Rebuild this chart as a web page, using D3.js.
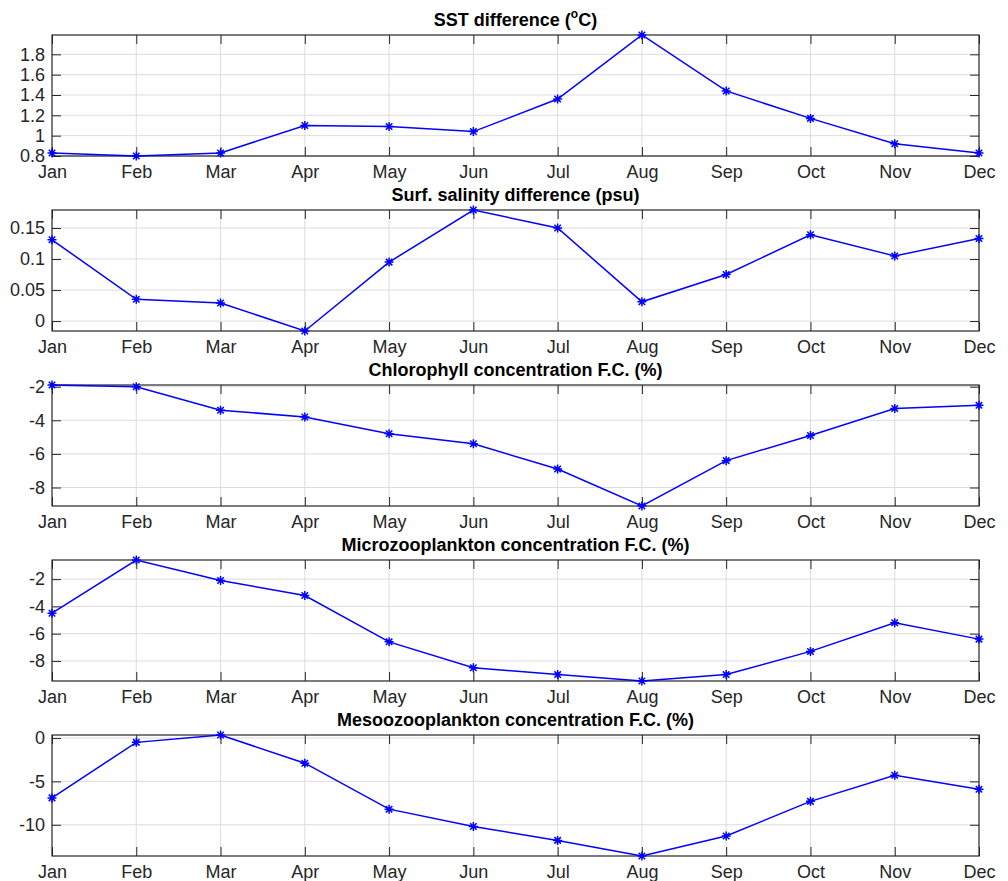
<!DOCTYPE html>
<html>
<head>
<meta charset="utf-8">
<script src="https://cdn.jsdelivr.net/npm/d3@7"></script>
<style>
  body { margin: 0; background: #fff; }
  svg { font-family: "Liberation Sans", Arial, Helvetica, sans-serif; }
</style>
</head>
<body>
<svg id="chart" width="1008" height="881"></svg>
<script>
const months = ["Jan","Feb","Mar","Apr","May","Jun","Jul","Aug","Sep","Oct","Nov","Dec"]

const sst = [0.83, 0.80, 0.83, 1.10, 1.09, 1.04, 1.36, 1.99, 1.44, 1.17, 0.92, 0.83]
const salinity = [0.131, 0.035, 0.029, -0.016, 0.095, 0.179, 0.150, 0.031, 0.075, 0.139, 0.105, 0.133]
const chloro = [-1.9, -2.0, -3.4, -3.8, -4.8, -5.4, -6.9, -9.1, -6.4, -4.9, -3.3, -3.1]
const micro = [-4.5, -0.6, -2.1, -3.2, -6.6, -8.5, -9.0, -9.47, -9.0, -7.3, -5.2, -6.4]
const meso = [-6.9, -0.5, 0.35, -2.9, -8.2, -10.2, -11.8, -13.6, -11.3, -7.3, -4.3, -5.9]

const titles = ["SST difference", "Surf. salinity difference (psu)", "Chlorophyll concentration F.C. (%)",
  "Microzooplankton concentration F.C. (%)", "Mesoozooplankton concentration F.C. (%)"]
const yTicks = [
  [0.8, 1, 1.2, 1.4, 1.6, 1.8],
  [0, 0.05, 0.1, 0.15],
  [-8, -6, -4, -2],
  [-8, -6, -4, -2],
  [-10, -5, 0]
]
const series = [sst, salinity, chloro, micro, meso]

const left = 52, right = 979
const top0 = 35, panelH = 121, step = 175
const axisColor = '#262626'
const tickLen = 9
const fontSize = 18

const svg = d3.select('#chart')

const x = d3.scalePoint()
  .domain(months)
  .range([left, right])

function asterisk(r) {
  const d = r * 0.72
  return `M${-r},0L${r},0M0,${-r}L0,${r}M${-d},${-d}L${d},${d}M${-d},${d}L${d},${-d}`
}

series.forEach(function (vals, i) {
  const top = top0 + i * step
  const bottom = top + panelH
  const y = d3.scaleLinear()
    .domain(d3.extent(vals))
    .range([bottom, top])

  const g = svg.append('g').attr('class', 'panel')

  // grid
  g.append('g').selectAll('line.vg')
    .data(months.slice(1, -1))
    .enter().append('line')
    .attr('x1', d => x(d)).attr('x2', d => x(d))
    .attr('y1', top).attr('y2', bottom)
    .attr('stroke', '#dcdcdc').attr('stroke-width', 1)
  g.append('g').selectAll('line.hg')
    .data(yTicks[i])
    .enter().append('line')
    .attr('x1', left).attr('x2', right)
    .attr('y1', d => y(d)).attr('y2', d => y(d))
    .attr('stroke', '#dcdcdc').attr('stroke-width', 1)

  // axes (ticks inside, box on)
  const ax = g.append('g').attr('transform', `translate(0,${bottom})`)
    .call(d3.axisBottom(x).tickSize(-tickLen).tickPadding(9))
  const axTop = g.append('g').attr('transform', `translate(0,${top})`)
    .call(d3.axisTop(x).tickSize(-tickLen).tickFormat(''))
  const ay = g.append('g').attr('transform', `translate(${left},0)`)
    .call(d3.axisLeft(y).tickValues(yTicks[i]).tickSize(-tickLen).tickPadding(7)
      .tickFormat(d => String(d)))
  const ayR = g.append('g').attr('transform', `translate(${right},0)`)
    .call(d3.axisRight(y).tickValues(yTicks[i]).tickSize(-tickLen).tickFormat(''))

  ;[ax, axTop, ay, ayR].forEach(function (a) {
    a.select('.domain').remove()
    a.selectAll('line').attr('stroke', axisColor)
    a.selectAll('text').attr('fill', axisColor).attr('font-size', fontSize).attr('font-family', null)
  })

  g.append('rect')
    .attr('x', left).attr('y', top)
    .attr('width', right - left).attr('height', bottom - top)
    .attr('fill', 'none').attr('stroke', axisColor).attr('stroke-width', 1.2)

  // line + markers
  const line = d3.line()
    .x((d, j) => x(months[j]))
    .y(d => y(d))
  g.append('path')
    .datum(vals)
    .attr('d', line)
    .attr('fill', 'none')
    .attr('stroke', '#0000ff')
    .attr('stroke-width', 1.5)

  g.append('g').selectAll('path')
    .data(vals)
    .enter().append('path')
    .attr('transform', (d, j) => `translate(${x(months[j])},${y(d)})`)
    .attr('d', asterisk(4.5))
    .attr('stroke', '#0000ff')
    .attr('stroke-width', 1.5)
    .attr('fill', 'none')

  // title
  const t = svg.append('text')
    .attr('x', (left + right) / 2)
    .attr('y', top - 9)
    .attr('text-anchor', 'middle')
    .attr('font-size', fontSize)
    .attr('font-weight', 'bold')
    .attr('fill', '#000')
  if (i === 0) {
    t.append('tspan').text('SST difference (')
    t.append('tspan').attr('font-size', 12).attr('dy', -8).text('o')
    t.append('tspan').attr('dy', 8).text('C)')
  } else {
    t.text(titles[i])
  }
})
</script>
</body>
</html>
